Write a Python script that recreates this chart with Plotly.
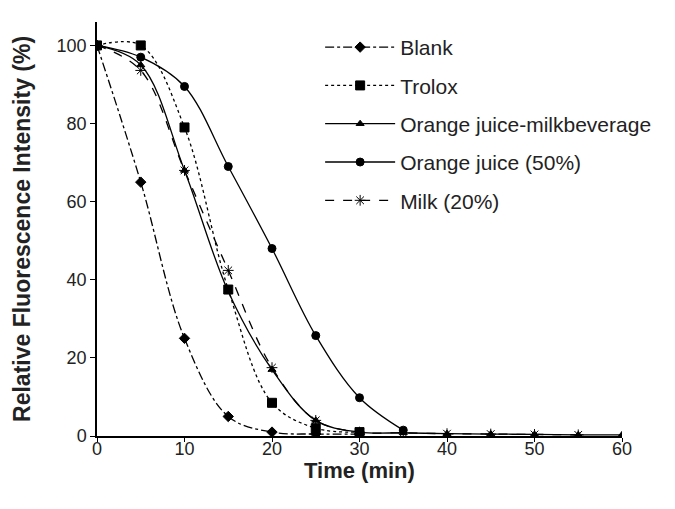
import plotly.graph_objects as go

blank_x = [0, 5, 10, 15, 20, 25, 30]
blank_y = [100, 65, 25, 5, 1, 0.5, 0.5]

trolox_x = [0, 5, 10, 15, 20, 25, 30]
trolox_y = [100, 100, 79, 37.5, 8.5, 2, 1]

ojm_x = [0, 5, 10, 15, 20, 25, 30, 35, 40, 45, 50, 55, 60]
ojm_y = [100, 95, 68, 37, 17, 4, 1, 0.8, 0.6, 0.5, 0.4, 0.3, 0.3]

oj_x = [0, 5, 10, 15, 20, 25, 30, 35]
oj_y = [100, 97, 89.5, 69, 48, 25.7, 9.8, 1.5]

milk_x = [0, 5, 10, 15, 20, 25, 30, 35, 40, 45, 50, 55]
milk_y = [100, 93.6, 68, 42.4, 17.5, 4, 1, 0.8, 0.6, 0.5, 0.4, 0.3]

x_ticks = [0, 10, 20, 30, 40, 50, 60]
y_ticks = [0, 20, 40, 60, 80, 100]

x_title = "Time (min)"
y_title = "Relative Fluorescence Intensity (%)"

fig = go.Figure()

def add(name, x, y, dash, symbol, size, group):
    fig.add_trace(go.Scatter(
        x=x, y=y, name=name, mode="lines+markers",
        line=dict(color="black", width=1.3, dash=dash, shape="spline", smoothing=1.0),
        marker=dict(symbol=symbol, size=size, color="black",
                    line=dict(color="black", width=1)),
        legendgroup=group,
    ))

add("Blank", blank_x, blank_y, "dashdot", "diamond", 8, "a")
add("Trolox", trolox_x, trolox_y, "dot", "square", 9, "b")
add("Orange juice-milkbeverage", ojm_x, ojm_y, "solid", "triangle-up", 7, "c")
add("Orange juice (50%)", oj_x, oj_y, "solid", "circle", 8, "d")
add("Milk (20%)", milk_x, milk_y, "dash", "asterisk-open", 9, "e")

fig.update_layout(
    width=667, height=501,
    paper_bgcolor="white", plot_bgcolor="white",
    margin=dict(l=89, r=53, t=14, b=73),
    font=dict(family="Liberation Sans, Arial, sans-serif", size=18, color="#222"),
    legend=dict(x=0.425, y=0.988, xanchor="left", yanchor="top",
                font=dict(size=21), tracegroupgap=8, itemwidth=70,
                bgcolor="rgba(0,0,0,0)"),
    xaxis=dict(range=[0, 60], tickvals=x_ticks, showline=True, linecolor="black",
               linewidth=1.5, ticks="outside", ticklen=4, tickcolor="black",
               ticklabelstandoff=-8,
               showgrid=False, zeroline=False, automargin=False),
    yaxis=dict(range=[0, 106], tickvals=y_ticks, showline=True, linecolor="black",
               linewidth=1.5, ticks="outside", ticklen=5, tickcolor="black",
               showgrid=False, zeroline=False, automargin=False),
    annotations=[
        dict(text="<b>" + x_title + "</b>", xref="paper", yref="paper",
             x=0.5, y=-0.083, xanchor="center", yanchor="middle",
             showarrow=False, font=dict(size=22)),
        dict(text="<b>" + y_title + "</b>", xref="paper", yref="paper",
             x=-0.143, y=0.5, xanchor="center", yanchor="middle", textangle=-90,
             showarrow=False, font=dict(size=23)),
    ],
)

fig.write_html("out.html")
